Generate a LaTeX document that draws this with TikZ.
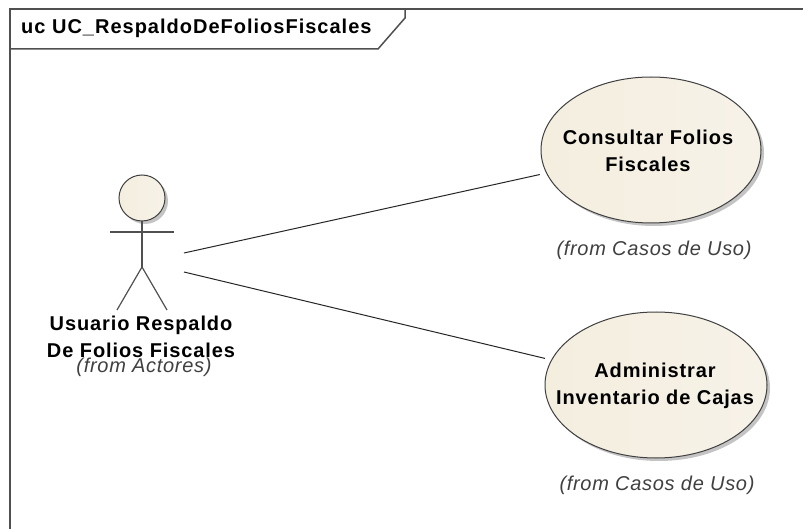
\documentclass[tikz,border=0pt]{standalone}
\usepackage{fontspec}
\setmainfont{Liberation Sans}
\newfontfamily\labelfont[LetterSpace=4.5]{Liberation Sans}
\newfontfamily\titlefont[LetterSpace=5]{Liberation Sans}
\newfontfamily\fromfont[LetterSpace=3.5]{Liberation Sans}
\definecolor{edgecol}{HTML}{505050}
\definecolor{fillcol}{HTML}{F7F2E8}
\definecolor{fillleft}{HTML}{F4EEDF}
\definecolor{shadowcol}{HTML}{C4C4C4}
\definecolor{fromcol}{HTML}{404040}
\usetikzlibrary{shapes.geometric}
\tikzset{
  x=1pt,y=-1pt,
  frameline/.style={draw=edgecol,line width=1.5pt},
  usecase/.style={ellipse,draw=black!75,line width=1pt,left color=fillleft,right color=fillcol,inner sep=0pt,anchor=center},
  usecaseshadow/.style={ellipse,fill=shadowcol,inner sep=0pt,anchor=center},
  assoc/.style={draw=black!85,line width=1pt,shorten >=6.5pt},
  stick/.style={draw=edgecol,line width=1.2pt},
  namelabel/.style={font=\labelfont\fontsize{20}{27}\selectfont\bfseries,align=center,text=black,inner sep=0pt},
  fromlabel/.style={font=\fromfont\fontsize{20}{22}\selectfont\itshape,text=fromcol,inner sep=0pt},
  titlelabel/.style={font=\titlefont\fontsize{20}{22}\selectfont\bfseries,text=black,inner sep=0pt,anchor=west}
}
\begin{document}
\begin{tikzpicture}
\useasboundingbox[fill=white] (0,0) rectangle (803,529);
% frame
\draw[frameline] (10,529) -- (10,9) -- (803,9);
\coordinate (tabA) at (405,9);
\coordinate (tabB) at (405,18);
\coordinate (tabC) at (378,49);
\coordinate (tabD) at (10,49);
\draw[frameline] (tabA) -- (tabB) -- (tabC) -- (tabD);
\node[titlelabel] (title) at (21,28) {uc UC\_RespaldoDeFoliosFiscales};
% shadows
\node[usecaseshadow,minimum width=220pt,minimum height=146pt] (s1) at (654,153) {};
\node[usecaseshadow,minimum width=222pt,minimum height=146pt] (s2) at (659,388) {};
\node[circle,fill=shadowcol,minimum size=46pt,inner sep=0pt] (headshadow) at (145,201) {};
% use cases
\node[usecase,minimum width=220pt,minimum height=146pt] (uc1) at (651,150) {};
\node[namelabel] (uc1t) at (648,151) {Consultar Folios\\Fiscales};
\node[fromlabel] (uc1f) at (654,250) {(from Casos de Uso)};
\node[usecase,minimum width=222pt,minimum height=146pt] (uc2) at (656,385) {};
\node[namelabel] (uc2t) at (655,386) {Administrar\\Inventario de Cajas};
\node[fromlabel] (uc2f) at (657,485) {(from Casos de Uso)};
% actor
\node[circle,draw=black!75,line width=1pt,left color=fillleft,right color=fillcol,minimum size=46pt,inner sep=0pt] (head) at (142,198) {};
\coordinate (arml) at (110,232);
\coordinate (armr) at (174,232);
\coordinate (hip) at (142,267);
\coordinate (footl) at (117,310);
\coordinate (footr) at (167,310);
\draw[stick] (arml) -- (armr);
\draw[stick] (head) -- (hip);
\draw[stick] (footl) -- (hip) -- (footr);
\node[namelabel] (actorname) at (141,337) {Usuario Respaldo\\De Folios Fiscales};
\node[fromlabel] (actorfrom) at (144,367) {(from Actores)};
% associations
\coordinate (a1) at (184,253);
\coordinate (a2) at (184,272);
\draw[assoc] (a1) -- (uc1);
\draw[assoc] (a2) -- (uc2);
\end{tikzpicture}
\end{document}
